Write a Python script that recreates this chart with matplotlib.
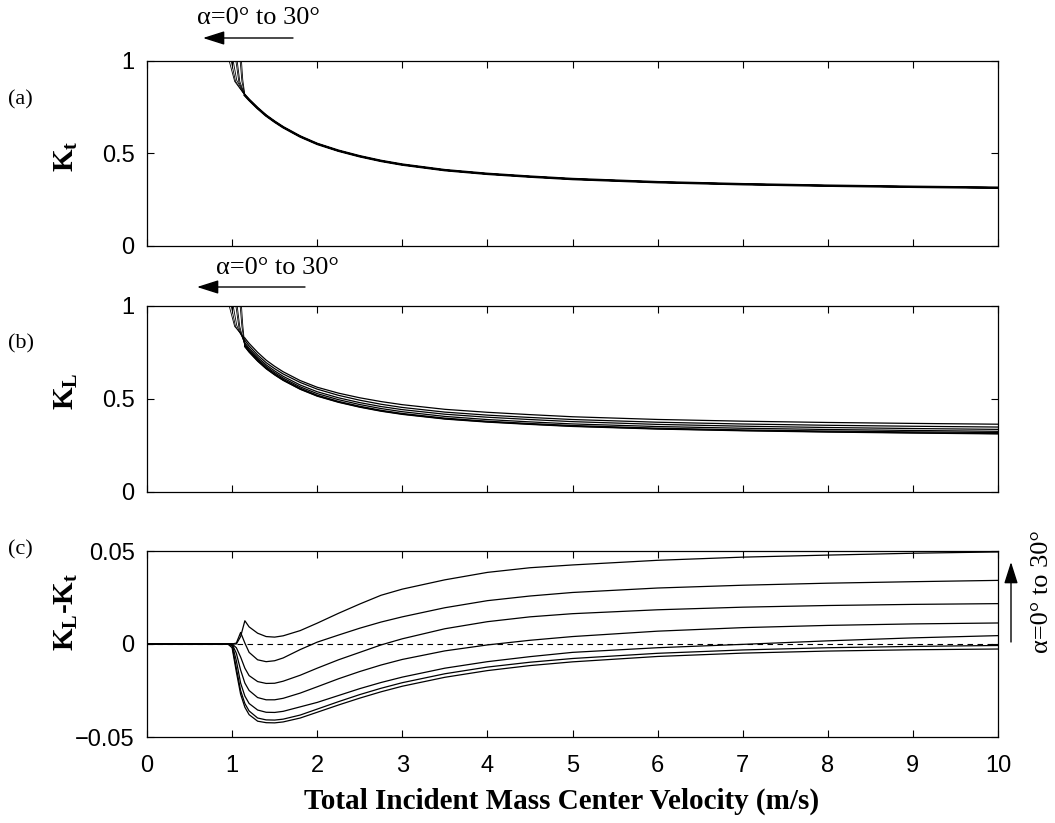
"""Three-panel restitution-coefficient figure (Kt, KL and KL-Kt vs. velocity)."""

import matplotlib

matplotlib.use("Agg")
import matplotlib.pyplot as plt
import numpy as np
from matplotlib.patches import FancyArrowPatch

plt.rcParams.update({
    "font.family": ["Liberation Sans", "DejaVu Sans"],
    "mathtext.fontset": "custom",
    "mathtext.rm": "Liberation Serif",
    "mathtext.it": "Liberation Serif:italic",
    "mathtext.bf": "Liberation Serif:bold",
    "axes.linewidth": 0.9,
    "xtick.direction": "in",
    "ytick.direction": "in",
    "xtick.top": True,
    "ytick.right": True,
    "xtick.major.size": 5,
    "ytick.major.size": 5,
    "xtick.labelsize": 17,
    "ytick.labelsize": 17,
})

SERIF = ["Liberation Serif", "DejaVu Serif"]

ALPHAS = [0, 5, 10, 15, 20, 25, 30]

# velocity grid for the K_L - K_t curves (m/s)
X_DIFF = [0.0, 0.95, 1.0, 1.05, 1.1, 1.15, 1.2, 1.3, 1.4, 1.5, 1.6, 1.8, 2.0,
          2.25, 2.5, 2.75, 3.0, 3.5, 4.0, 4.5, 5.0, 6.0, 7.0, 8.0, 9.0, 10.0]

DIFF_A0 = [0, 0, -0.002, -0.015, -0.027, -0.034, -0.038, -0.0415, -0.0423,
           -0.0424, -0.0419, -0.0398, -0.0367, -0.0328, -0.0291, -0.0257,
           -0.0227, -0.0179, -0.0143, -0.0116, -0.0096, -0.0067, -0.0049,
           -0.0038, -0.0031, -0.0027]
DIFF_A5 = [0, 0, -0.001, -0.013, -0.025, -0.032, -0.036, -0.0398, -0.0408,
           -0.0409, -0.0404, -0.0382, -0.0350, -0.0310, -0.0272, -0.0238,
           -0.0208, -0.0160, -0.0124, -0.0098, -0.0078, -0.0050, -0.0032,
           -0.0020, -0.0013, -0.0008]
DIFF_A10 = [0, 0, 0, -0.009, -0.021, -0.028, -0.032, -0.0355, -0.0367,
            -0.0368, -0.0362, -0.0338, -0.0314, -0.0277, -0.0240, -0.0207,
            -0.0178, -0.0130, -0.0095, -0.0068, -0.0045, -0.0020, -0.0002,
            0.0017, 0.0033, 0.0045]
DIFF_A15 = [0, 0, 0, -0.005, -0.014, -0.021, -0.025, -0.0288, -0.0300,
            -0.0300, -0.0292, -0.0264, -0.0230, -0.0187, -0.0148, -0.0113,
            -0.0083, -0.0037, -0.0005, 0.0020, 0.0040, 0.0069, 0.0088,
            0.0100, 0.0108, 0.0113]
DIFF_A20 = [0, 0, 0, -0.002, -0.007, -0.013, -0.017, -0.0202, -0.0212,
            -0.0211, -0.0200, -0.0168, -0.0130, -0.0085, -0.0045, -0.0005,
            0.0028, 0.0082, 0.0120, 0.0146, 0.0163, 0.0184, 0.0198, 0.0207,
            0.0213, 0.0217]
DIFF_A25 = [0, 0, 0, 0.0005, 0.0062, 0.0005, -0.0045, -0.0085, -0.0095,
            -0.0090, -0.0075, -0.0030, 0.0010, 0.0048, 0.0085, 0.0118, 0.0146,
            0.0195, 0.0233, 0.0258, 0.0277, 0.0301, 0.0316, 0.0327, 0.0335,
            0.0342]
DIFF_A30 = [0, 0, 0, 0, 0.004, 0.0125, 0.0092, 0.0058, 0.0040, 0.0037,
            0.0044, 0.0072, 0.0112, 0.0165, 0.0215, 0.0262, 0.0295, 0.0345,
            0.0385, 0.0410, 0.0425, 0.0450, 0.0467, 0.0478, 0.0488, 0.0495]
DIFFS = [DIFF_A0, DIFF_A5, DIFF_A10, DIFF_A15, DIFF_A20, DIFF_A25, DIFF_A30]

# common K_t tail, from X_DIFF[5:] onwards
TAIL_START = 5
KT_TAIL = [0.815, 0.79, 0.745, 0.705, 0.672, 0.642, 0.592, 0.552, 0.515,
           0.485, 0.460, 0.440, 0.410, 0.390, 0.375, 0.362, 0.345, 0.334,
           0.326, 0.320, 0.315]

# the steep start of each curve, where K first drops below 1
FAN_START_X = [1.11, 1.095, 1.06, 1.045, 1.013, 0.99, 0.966]
FAN_MID_X = [1.125, 1.115, 1.09, 1.08, 1.055, 1.04, 1.03]
FAN_MID_K = [0.90, 0.89, 0.89, 0.885, 0.895, 0.89, 0.89]

X_TICKS = list(range(11))
K_TICKS = [0, 0.5, 1]
K_TICK_LABELS = ["0", "0.5", "1"]
D_TICKS = [-0.05, 0, 0.05]
D_TICK_LABELS = ["\u22120.05", "0", "0.05"]

ARROW_TEXT = "\u03b1=0\u00b0 to 30\u00b0"

W, H = 1055, 823


def _rect(left, top, right, bottom):
    return [left / W, 1 - bottom / H, (right - left) / W, (bottom - top) / H]


def _fig_xy(xpix, ypix):
    return xpix / W, 1 - ypix / H


def _style(ax, yticks, ylabels, ylim, show_x):
    ax.set_xlim(0, 10)
    ax.set_ylim(*ylim)
    ax.set_xticks(X_TICKS)
    ax.set_yticks(yticks)
    ax.set_yticklabels(ylabels)
    if not show_x:
        ax.set_xticklabels([])
    ax.tick_params(axis="y", colors="black", pad=9)
    ax.tick_params(axis="x", colors="black", pad=13)


def _plot_k_panel(ax, kt_tail, diffs):
    x_tail = X_DIFF[TAIL_START:]
    for i, d in enumerate(diffs):
        tail = np.asarray(kt_tail) + np.asarray(d[TAIL_START:])
        fan_x = [FAN_START_X[i], FAN_MID_X[i], x_tail[0]]
        fan_k = [1.0, FAN_MID_K[i], tail[0]]
        ax.plot(fan_x, fan_k, color="black", lw=0.6)
        ax.plot(x_tail, tail, color="black", lw=0.9)


def _arrow(fig, start, end):
    fig.add_artist(FancyArrowPatch(
        _fig_xy(*start), _fig_xy(*end), transform=fig.transFigure,
        arrowstyle="-|>,head_length=1.1,head_width=0.35", mutation_scale=12,
        color="black", lw=1.0, shrinkA=0, shrinkB=0))


fig = plt.figure(figsize=(W / 100, H / 100), dpi=100)

ax_a = fig.add_axes(_rect(147, 61, 998, 246))
ax_b = fig.add_axes(_rect(147, 306, 998, 492))
ax_c = fig.add_axes(_rect(147, 551, 998, 737))

# (a) K_t: every alpha shares the same tail, so it reads as one thick line
zero_diffs = [[0.0] * len(X_DIFF) for _ in ALPHAS]
_plot_k_panel(ax_a, KT_TAIL, zero_diffs)
ax_a.plot(X_DIFF[TAIL_START:], KT_TAIL, color="black", lw=1.8)
_style(ax_a, K_TICKS, K_TICK_LABELS, (0, 1), False)

# (b) K_L = K_t + (K_L - K_t)
_plot_k_panel(ax_b, KT_TAIL, DIFFS)
_style(ax_b, K_TICKS, K_TICK_LABELS, (0, 1), False)

# (c) K_L - K_t
ax_c.axhline(0, color="black", lw=0.8, ls=(0, (5, 4)))
for d in DIFFS:
    ax_c.plot(X_DIFF, d, color="black", lw=0.9)
_style(ax_c, D_TICKS, D_TICK_LABELS, (-0.05, 0.05), True)

# panel letters and axis labels
for label, ypix in (("(a)", 100), ("(b)", 344), ("(c)", 550)):
    fig.text(*_fig_xy(8, ypix), label, family=SERIF, fontsize=16,
             ha="left", va="center")

fig.text(*_fig_xy(66, 156), r"$\mathbf{K_t}$", fontsize=21, rotation=90,
         ha="center", va="center")
fig.text(*_fig_xy(66, 391), r"$\mathbf{K_L}$", fontsize=21, rotation=90,
         ha="center", va="center")
fig.text(*_fig_xy(66, 612), r"$\mathbf{K_L}$-$\mathbf{K_t}$", fontsize=21,
         rotation=90, ha="center", va="center", family=SERIF,
         fontweight="bold")
fig.text(*_fig_xy(562, 801), "Total Incident Mass Center Velocity (m/s)",
         family=SERIF, fontweight="bold", fontsize=21, ha="center",
         va="center")

# alpha direction arrows
fig.text(*_fig_xy(258, 18), ARROW_TEXT, family=SERIF, fontsize=19,
         ha="center", va="center")
_arrow(fig, (293, 38), (203, 38))
fig.text(*_fig_xy(277, 268), ARROW_TEXT, family=SERIF, fontsize=19,
         ha="center", va="center")
_arrow(fig, (305, 287), (197, 287))
fig.text(*_fig_xy(1042, 592), ARROW_TEXT, family=SERIF, fontsize=19,
         rotation=90, ha="center", va="center")
_arrow(fig, (1011, 642), (1011, 562))

fig.savefig("out.png", dpi=100)
